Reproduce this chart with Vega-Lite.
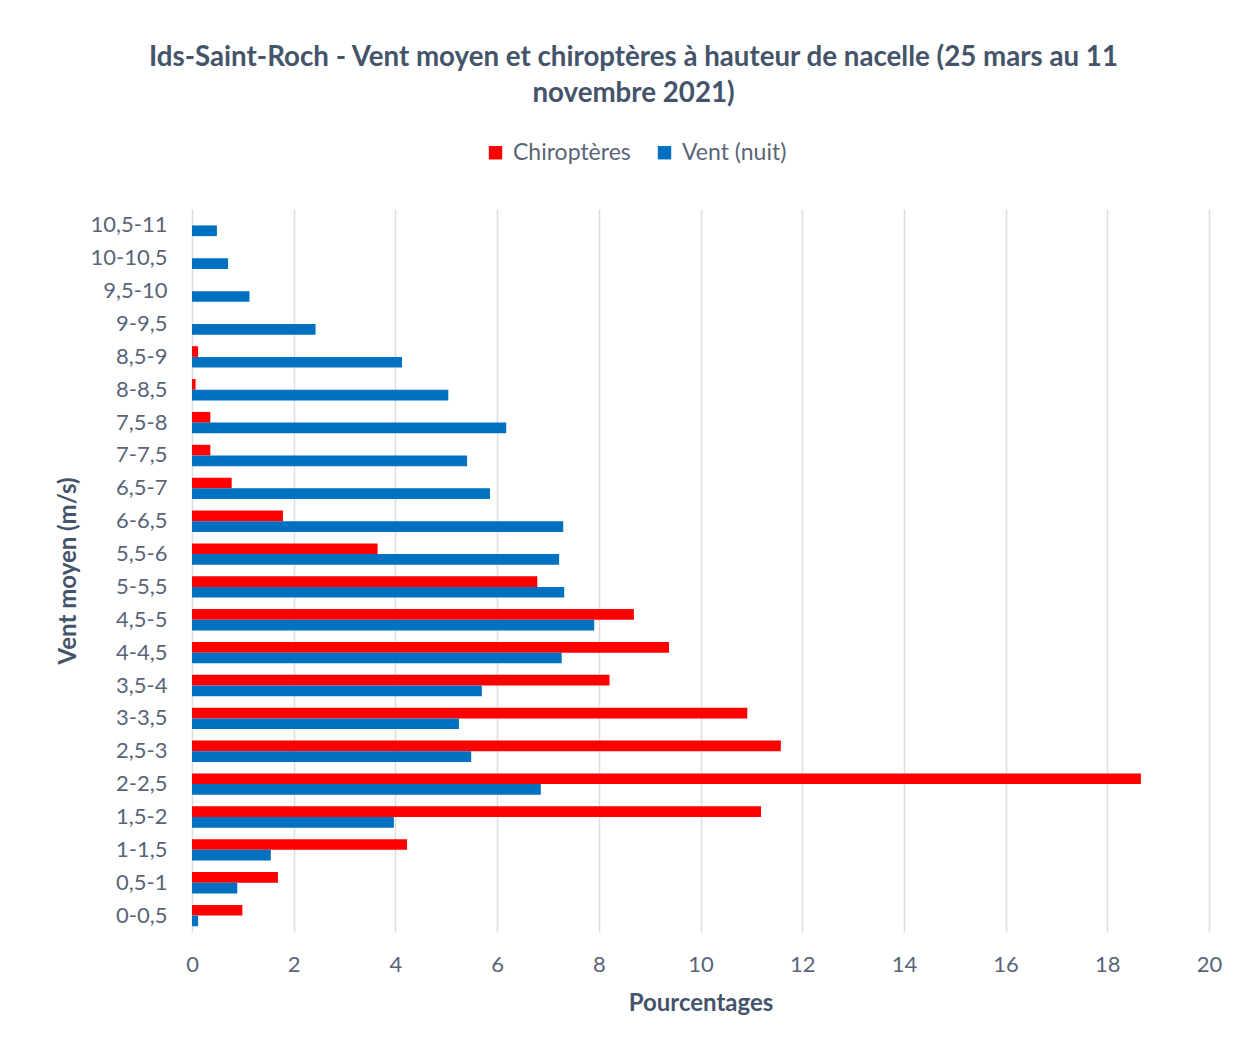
{
  "$schema": "https://vega.github.io/schema/vega-lite/v6.json",
  "width": 1017,
  "height": 723,
  "autosize": "none",
  "padding": {"left": 192, "top": 209, "right": 30, "bottom": 115},
  "background": "white",
  "title": {
    "text": ["Ids-Saint-Roch - Vent moyen et chiroptères à hauteur de nacelle (25 mars au 11", "novembre 2021)"],
    "font": "Lato",
    "fontSize": 27.7,
    "fontWeight": "bold",
    "color": "#44546A",
    "lineHeight": 36,
    "anchor": "middle",
    "dx": -67,
    "offset": 33
  },
  "data": {
    "values": [
      {"tranche": "10,5-11", "serie": "Chiroptères", "pct": 0},
      {"tranche": "10,5-11", "serie": "Vent (nuit)", "pct": 0.49},
      {"tranche": "10-10,5", "serie": "Chiroptères", "pct": 0},
      {"tranche": "10-10,5", "serie": "Vent (nuit)", "pct": 0.71},
      {"tranche": "9,5-10", "serie": "Chiroptères", "pct": 0},
      {"tranche": "9,5-10", "serie": "Vent (nuit)", "pct": 1.13},
      {"tranche": "9-9,5", "serie": "Chiroptères", "pct": 0},
      {"tranche": "9-9,5", "serie": "Vent (nuit)", "pct": 2.43},
      {"tranche": "8,5-9", "serie": "Chiroptères", "pct": 0.12},
      {"tranche": "8,5-9", "serie": "Vent (nuit)", "pct": 4.13},
      {"tranche": "8-8,5", "serie": "Chiroptères", "pct": 0.07},
      {"tranche": "8-8,5", "serie": "Vent (nuit)", "pct": 5.04},
      {"tranche": "7,5-8", "serie": "Chiroptères", "pct": 0.36},
      {"tranche": "7,5-8", "serie": "Vent (nuit)", "pct": 6.18},
      {"tranche": "7-7,5", "serie": "Chiroptères", "pct": 0.36},
      {"tranche": "7-7,5", "serie": "Vent (nuit)", "pct": 5.41},
      {"tranche": "6,5-7", "serie": "Chiroptères", "pct": 0.78},
      {"tranche": "6,5-7", "serie": "Vent (nuit)", "pct": 5.86},
      {"tranche": "6-6,5", "serie": "Chiroptères", "pct": 1.79},
      {"tranche": "6-6,5", "serie": "Vent (nuit)", "pct": 7.30},
      {"tranche": "5,5-6", "serie": "Chiroptères", "pct": 3.65},
      {"tranche": "5,5-6", "serie": "Vent (nuit)", "pct": 7.22},
      {"tranche": "5-5,5", "serie": "Chiroptères", "pct": 6.79},
      {"tranche": "5-5,5", "serie": "Vent (nuit)", "pct": 7.32},
      {"tranche": "4,5-5", "serie": "Chiroptères", "pct": 8.69},
      {"tranche": "4,5-5", "serie": "Vent (nuit)", "pct": 7.91},
      {"tranche": "4-4,5", "serie": "Chiroptères", "pct": 9.38},
      {"tranche": "4-4,5", "serie": "Vent (nuit)", "pct": 7.27},
      {"tranche": "3,5-4", "serie": "Chiroptères", "pct": 8.21},
      {"tranche": "3,5-4", "serie": "Vent (nuit)", "pct": 5.70},
      {"tranche": "3-3,5", "serie": "Chiroptères", "pct": 10.92},
      {"tranche": "3-3,5", "serie": "Vent (nuit)", "pct": 5.25},
      {"tranche": "2,5-3", "serie": "Chiroptères", "pct": 11.58},
      {"tranche": "2,5-3", "serie": "Vent (nuit)", "pct": 5.49},
      {"tranche": "2-2,5", "serie": "Chiroptères", "pct": 18.66},
      {"tranche": "2-2,5", "serie": "Vent (nuit)", "pct": 6.86},
      {"tranche": "1,5-2", "serie": "Chiroptères", "pct": 11.19},
      {"tranche": "1,5-2", "serie": "Vent (nuit)", "pct": 3.97},
      {"tranche": "1-1,5", "serie": "Chiroptères", "pct": 4.23},
      {"tranche": "1-1,5", "serie": "Vent (nuit)", "pct": 1.55},
      {"tranche": "0,5-1", "serie": "Chiroptères", "pct": 1.69},
      {"tranche": "0,5-1", "serie": "Vent (nuit)", "pct": 0.89},
      {"tranche": "0-0,5", "serie": "Chiroptères", "pct": 0.99},
      {"tranche": "0-0,5", "serie": "Vent (nuit)", "pct": 0.12}
    ]
  },
  "mark": {"type": "bar"},
  "encoding": {
    "y": {
      "field": "tranche",
      "type": "nominal",
      "sort": ["10,5-11", "10-10,5", "9,5-10", "9-9,5", "8,5-9", "8-8,5", "7,5-8", "7-7,5", "6,5-7", "6-6,5", "5,5-6", "5-5,5", "4,5-5", "4-4,5", "3,5-4", "3-3,5", "2,5-3", "2-2,5", "1,5-2", "1-1,5", "0,5-1", "0-0,5"],
      "scale": {"paddingInner": 0.35, "paddingOuter": 0.175},
      "axis": {
        "title": "Vent moyen (m/s)",
        "titleFont": "Lato",
        "titleFontSize": 24,
        "titleFontWeight": "bold",
        "titleColor": "#44546A",
        "titlePadding": 10,
        "labelFont": "Lato",
        "labelFontSize": 22,
        "labelColor": "#5A6478",
        "labelPadding": 25,
        "ticks": false,
        "domain": false,
        "grid": false
      }
    },
    "yOffset": {
      "field": "serie",
      "type": "nominal",
      "sort": ["Chiroptères", "Vent (nuit)"],
      "scale": {"paddingInner": 0, "paddingOuter": 0}
    },
    "x": {
      "field": "pct",
      "type": "quantitative",
      "scale": {"domain": [0, 20], "nice": false},
      "axis": {
        "title": "Pourcentages",
        "titleFont": "Lato",
        "titleFontSize": 24,
        "titleFontWeight": "bold",
        "titleColor": "#44546A",
        "titlePadding": 16,
        "labelFont": "Lato",
        "labelFontSize": 22,
        "labelColor": "#5A6478",
        "labelPadding": 22,
        "labelFlush": false,
        "values": [0, 2, 4, 6, 8, 10, 12, 14, 16, 18, 20],
        "ticks": false,
        "domain": false,
        "grid": true,
        "gridColor": "#D9DEE7",
        "gridWidth": 1.5
      }
    },
    "color": {
      "field": "serie",
      "type": "nominal",
      "sort": ["Chiroptères", "Vent (nuit)"],
      "scale": {"domain": ["Chiroptères", "Vent (nuit)"], "range": ["#FF0000", "#0070C0"]},
      "legend": {
        "title": null,
        "orient": "none",
        "direction": "horizontal",
        "legendX": 292,
        "legendY": -68,
        "symbolType": "square",
        "symbolSize": 180,
        "symbolStrokeWidth": 0,
        "labelFont": "Lato",
        "labelFontSize": 23,
        "labelColor": "#5A6478",
        "labelOffset": 6,
        "columnPadding": 22
      }
    }
  },
  "config": {
    "view": {"stroke": null}
  }
}
